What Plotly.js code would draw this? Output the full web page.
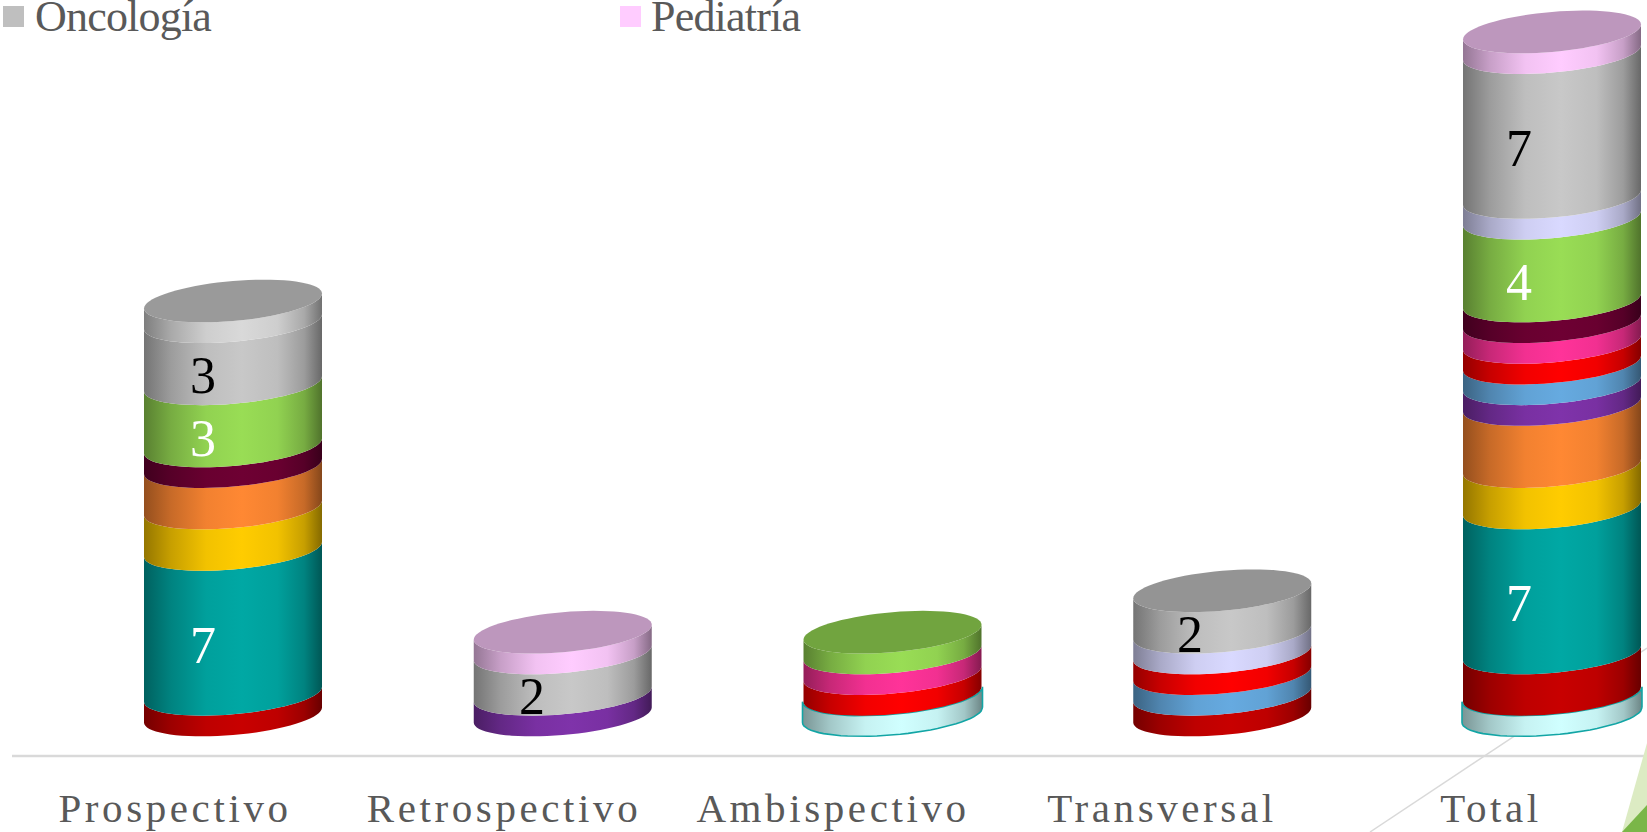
<!DOCTYPE html>
<html><head><meta charset="utf-8">
<script src="https://cdn.plot.ly/plotly-3.0.1.min.js"></script>
<style>html,body{margin:0;padding:0;background:#fff;overflow:hidden}
.xtick text{letter-spacing:3.6px}
.annotation-text{letter-spacing:-0.8px}</style></head>
<body><div id="c" style="width:1647px;height:832px"></div>
<script>
const categories=['Prospectivo','Retrospectivo','Ambispectivo','Transversal','Total'];
const cian=[0,0,1,0,1];
const granate=[1,0,0,1,2];
const verdeAzul=[7,0,0,0,7];
const amarillo=[2,0,0,0,2];
const naranja=[2,0,0,0,3];
const purpura=[0,1,0,0,1];
const azul=[0,0,0,1,1];
const rojo=[0,0,1,1,1];
const rosa=[0,0,1,0,1];
const ciruela=[1,0,0,0,1];
const verde=[3,0,1,0,4];
const lavanda=[0,0,0,1,1];
const oncologia=[3,2,0,2,7];
const grisClaro=[1,0,0,0,0];
const pediatria=[0,1,0,0,1];
const stack=[
 {n:'Serie 1',v:cian,c:[208,255,255],line:'#12a5a5',grow:1},
 {n:'Serie 2',v:granate,c:[200,0,0]},
 {n:'Serie 3',v:verdeAzul,c:[0,168,164],lab:'#fff'},
 {n:'Serie 4',v:amarillo,c:[255,204,0]},
 {n:'Serie 5',v:naranja,c:[255,136,51]},
 {n:'Serie 6',v:purpura,c:[127,51,170]},
 {n:'Serie 7',v:azul,c:[102,170,224]},
 {n:'Serie 8',v:rojo,c:[255,0,0]},
 {n:'Serie 9',v:rosa,c:[255,51,153]},
 {n:'Serie 10',v:ciruela,c:[110,0,51]},
 {n:'Serie 11',v:verde,c:[153,221,85],lab:'#fff'},
 {n:'Serie 12',v:lavanda,c:[217,217,255]},
 {n:'Oncología',v:oncologia,c:[200,200,200],lab:'#000'},
 {n:'Serie 14',v:grisClaro,c:[217,217,217]},
 {n:'Pediatría',v:pediatria,c:[255,204,255]}
];
// scene constants (pixels of the pseudo-3D projection)
const W=1647,PH=756,STEP=329,X0=175,BASE=715,UNIT=20.7;
const BAR_DX=58,BAR_STEP=329.75,RX=89,RY=20,SHEAR=7.5;
const rgb=(c,f)=>`rgb(${c.map(a=>Math.round(a*f)).join(',')})`;
const shade=c=>[[0,.58],[.15,.78],[.35,.95],[.55,1],[.75,.95],[.9,.78],[1,.52]].map(([p,f])=>[p,rgb(c,f)]);
const ang=[];for(let d=0;d<=180;d+=5)ang.push(d*Math.PI/180);
const barX=(i,dx)=>(i*BAR_STEP+BAR_DX+dx)/STEP;
const arc=(i,v,g=0,a=ang)=>a.map(t=>[barX(i,(RX+g)*Math.cos(t)), v+(SHEAR*Math.cos(t)-RY*Math.sin(t))/UNIT]);
const traces=[],labX=[],labY=[],labT=[],labC=[];
categories.forEach((cat,i)=>{
 let v0=0,top=null;
 stack.forEach(s=>{
  const val=s.v[i]; if(!val)return;
  const v1=v0+val,g=s.grow||0;
  const pts=arc(i,v0,g).concat(arc(i,v1,g).reverse());pts.push(pts[0]);
  traces.push({type:'scatter',mode:s.line?'lines':'none',name:s.n,showlegend:false,hoverinfo:'skip',
   x:pts.map(p=>p[0]),y:pts.map(p=>p[1]),fill:'toself',
   line:{width:s.line?1.6:0,color:s.line||'rgba(0,0,0,0)'},
   fillgradient:{type:'horizontal',colorscale:shade(s.c)}});
  if(s.lab&&val>=2){labX.push(i+(BAR_DX-30)/STEP);labY.push((v0+v1)/2-RY/UNIT-0.37);labT.push(String(val));labC.push(s.lab);}
  v0=v1;top=s;
 });
 const full=[];for(let d=0;d<=360;d+=5)full.push(d*Math.PI/180);
 const e=arc(i,v0,0,full);
 traces.push({type:'scatter',mode:'none',name:'tapa',showlegend:false,hoverinfo:'skip',
  x:e.map(p=>p[0]),y:e.map(p=>p[1]),fill:'toself',fillcolor:rgb(top.c,top.c[0]===217?.71:.74)});
});
traces.push({type:'scatter',mode:'text',x:labX,y:labY,text:labT,showlegend:false,hoverinfo:'skip',
 textposition:'middle center',textfont:{family:'Liberation Serif',size:52,color:labC}});
const px=p=>p/W,py=p=>1-p/PH;
const legendItems=[{t:'Oncología',c:'#bfbfbf',x:3,tx:33},{t:'Pediatría',c:'#ffccff',x:620,tx:649}];
const shapes=[
 {type:'line',layer:'below',xref:'paper',yref:'paper',x0:px(1370),y0:py(832),x1:px(1647),y1:py(648),line:{color:'#d9d9d9',width:1.5}},
 {type:'line',layer:'below',xref:'paper',yref:'paper',x0:px(12),y0:py(756),x1:1,y1:py(756),line:{color:'#d9d9d9',width:2.5}},
 {type:'path',layer:'above',xref:'paper',yref:'paper',path:`M${px(1622)},${py(832)}L1,${py(743)}L1,${py(832)}Z`,fillcolor:'#dcebc3',line:{width:0}},
 {type:'path',layer:'above',xref:'paper',yref:'paper',path:`M${px(1622)},${py(832)}L1,${py(805)}L1,${py(832)}Z`,fillcolor:'#7ab648',line:{width:0}}
];
const annotations=[];
legendItems.forEach(l=>{
 shapes.push({type:'rect',xref:'paper',yref:'paper',x0:px(l.x),x1:px(l.x+21),y0:py(6),y1:py(27),fillcolor:l.c,line:{width:0}});
 annotations.push({xref:'paper',yref:'paper',x:px(l.tx),y:py(17),xanchor:'left',yanchor:'middle',showarrow:false,text:l.t,
  font:{family:'Liberation Serif',size:44,color:'#595959'}});
});
Plotly.newPlot('c',traces,{
 width:W,height:832,margin:{l:0,r:0,t:0,b:76,pad:0},paper_bgcolor:'#fff',plot_bgcolor:'rgba(0,0,0,0)',showlegend:false,
 xaxis:{type:'linear',range:[-X0/STEP,(W-X0)/STEP],tickmode:'array',tickvals:categories.map((_,i)=>i),ticktext:categories,
  showgrid:false,zeroline:false,showline:false,ticks:'',ticklabelstandoff:24,tickfont:{family:'Liberation Serif',size:41,color:'#595959'}},
 yaxis:{range:[(BASE-PH)/UNIT,BASE/UNIT],visible:false,showgrid:false,zeroline:false},
 shapes,annotations
},{displayModeBar:false,staticPlot:true});
</script></body></html>
